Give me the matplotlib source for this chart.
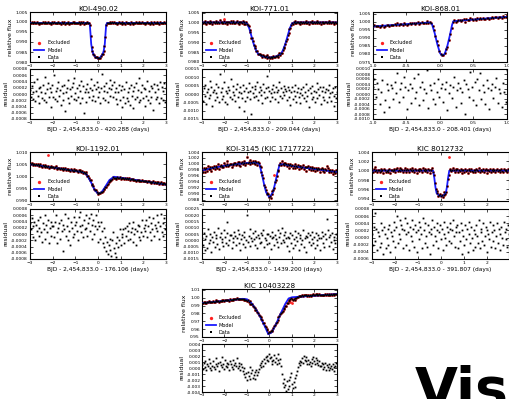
import numpy as np
import matplotlib
matplotlib.use("Agg")
import matplotlib.pyplot as plt
from matplotlib.ticker import FormatStrFormatter

plt.rcParams['font.family'] = ['DejaVu Sans']

W, H = 510, 399

# ---------------- data ----------------
titles = ["KOI-490.02", "KOI-771.01", "KOI-868.01", "KOI-1192.01",
          "KOI-3145 (KIC 1717722)", "KIC 8012732", "KIC 10403228"]
xlabels = ["BJD - 2,454,833.0 - 420.288 (days)",
           "BJD - 2,454,833.0 - 209.044 (days)",
           "BJD - 2,454,833.0 - 208.401 (days)",
           "BJD - 2,454,833.0 - 176.106 (days)",
           "BJD - 2,454,833.0 - 1439.200 (days)",
           "BJD - 2,454,833.0 - 391.807 (days)",
           None]

# model curves (node x, node y)
m1_x = [-3, -0.4, -0.36, -0.33, -0.3, -0.25, -0.2, -0.1, 0, 0.1, 0.2, 0.25, 0.3, 0.33, 0.36, 0.4, 3]
m1_y = [0.9995, 0.9995, 0.9985, 0.994, 0.989, 0.9855, 0.9838, 0.9823, 0.9818, 0.9823, 0.9838, 0.9855, 0.989, 0.994, 0.9985, 0.9995, 0.9995]
m2_x = [-3, -1.1, -1.0, -0.9, -0.8, -0.7, -0.6, -0.5, -0.3, 0, 0.3, 0.5, 0.6, 0.7, 0.8, 0.9, 1.0, 1.1, 3]
m2_y = [1.000, 1.000, 0.9995, 0.997, 0.993, 0.989, 0.986, 0.984, 0.9828, 0.9822, 0.9828, 0.984, 0.986, 0.989, 0.993, 0.997, 0.9995, 1.000, 1.000]
m3_x = [-1, -0.15, -0.12, -0.08, -0.04, 0.0, 0.03, 0.07, 0.11, 0.15, 0.18, 0.2, 1]
m3_y = [0.997, 0.9995, 0.9985, 0.993, 0.986, 0.9805, 0.979, 0.980, 0.985, 0.992, 0.998, 1.0003, 1.003]
m4_x = [-3, -1.5, -0.7, -0.5, -0.3, -0.15, 0, 0.15, 0.3, 0.5, 0.7, 1.5, 3]
m4_y = [1.0050, 1.0030, 1.0018, 1.0008, 0.9975, 0.9945, 0.9930, 0.9935, 0.9955, 0.9985, 0.9999, 0.9988, 0.9967]
m5_x = [-3, -2.5, -2, -1.5, -1, -0.6, -0.45, -0.35, -0.25, -0.15, 0, 0.15, 0.25, 0.35, 0.45, 0.6, 1, 2, 3]
m5_y = [0.9978, 0.9987, 0.9994, 0.9999, 1.0003, 1.0004, 1.0, 0.997, 0.9935, 0.9905, 0.9888, 0.9905, 0.9935, 0.997, 0.9998, 0.9999, 0.9993, 0.9983, 0.9973]
m6_x = [-3, -0.35, -0.3, -0.25, -0.2, -0.1, 0, 0.1, 0.2, 0.25, 0.3, 0.35, 2.94]
m6_y = [1.0, 1.0, 0.9985, 0.9965, 0.9952, 0.9947, 0.9945, 0.9947, 0.9952, 0.9965, 0.9985, 1.0, 1.0]
m7_x = [-3, -2, -1.2, -1.0, -0.8, -0.6, -0.4, -0.2, -0.05, 0.1, 0.3, 0.5, 0.7, 0.85, 1.0, 1.5, 2, 3]
m7_y = [0.993, 0.996, 0.9985, 0.998, 0.993, 0.985, 0.975, 0.963, 0.9535, 0.956, 0.967, 0.980, 0.992, 0.999, 1.0005, 1.0015, 1.0025, 1.0045]

# residuals (units of 1e-5 relative flux), evenly spread in time
r1 = [12, -8, 25, -15, 5, 38, -22, 10, 48, -5, 18, -30, 22, 8, -12, 30, -18, 55, 2, -25,
      15, 35, -10, 20, -40, 5, 28, -8, 62, -15, 10, -22, 18, 40, -5, 12, -35, 25, 3, -18,
      30, -55, 8, 20, -12, 45, -28, 15, -5, 22, 35, -15, 50, 2, -20, 18, -8, 28, -30, 10,
      42, -12, 25, -60, 5, 15, -25, 32, 8, -10, 20, 48, -18, 12, -5, 30, -22, 15, 38, -8,
      22, 5, -30, 18, 65, -12, 25, 10, -18, 35, 8, -25, 20, 45, -5, 15, 28, -10, 38, 5,
      -15, 20, -32, 8, 30, -20, 12, -40, 25, -8, 15, -28, 40, -12, 5, -22, 18, -35, 28, -5,
      10, -45, 22, -15, 35, -8, 12, -25, 50, -18, 8, 30, -12, 20, -38, 15, -5, 42, -20, 10,
      -28, 25, -10, 18, -50, 32, 5, -15, 28, -8, 15, -30, 38, -12, 22, -20, 10, 35, -25, 18]
r2 = [20, -40, 35, -10, 55, -60, 15, 30, -25, 80, -5, 40, -70, 10, 25, -35, 60, 5, -20, 45,
      -50, 120, 15, -30, 35, -10, 70, -45, 20, 5, -60, 40, 25, -15, 90, -30, 10, 50, -5, -40,
      30, 60, -20, 15, -75, 40, 5, -25, 55, 20, -100, -40, 35, -15, 10, 65, -30, 20, -120, 45,
      5, -20, 30, 50, -10, 75, -35, 15, 40, -5, 25, -55, 60, 10, -25, 35, 110, -15, 45, 20,
      -40, 5, 30, -20, 55, 15, -30, 40, 10, -50, 25, 70, -10, 35, -25, 15, 50, -5, 30, 20,
      -35, 45, -15, 25, -65, 10, 40, -30, 20, -10, 55, -45, 15, 35, -20, 5, -55, 30, -5, 45,
      -25, 15, -40, 60, -10, 25, -80, 35, 5, -30, 50, -15, 20, -45, 10, 65, -25, 30, -5, 40,
      -60, 20, -15, 45, -35, 10, 30, -50, 25, -20, 55, 5, -40, 15, 35, -10, -70, 40, -25, 15]
r3 = [30, 60, -10, 45, 20, -40, 10, 55, -70, -25, 40, 15, -50, 35, 25, -20, 50, 5, 85, -30,
      20, 45, -10, 70, 30, -60, 15, 40, -35, 25, 65, -15, 10, 80, -45, 30, 50, -25, 20, 5,
      95, -55, 35, 15, -20, 45, -40, 10, 60, -10, 25, 40, -30, 20, 50, -65, 5, 35, -15, 30,
      70, -50, 15, 45, 25, -35, 10, 55, -80, 40, 20, -10, 90, 30, -25, 50, -45, 60, 15, 85,
      -20, 35, 10, -40, 55, 25, -60, 15, 40, -15, 30, 65, -35, 20, 5, -50, 45, 10, -30, 95]
r4 = [35, 15, 50, -10, 25, 40, -20, 30, 10, 45, -5, 20, 55, 5, -25, 35, 15, 60, -15, 30, 5, 45, -30, 20, 40, -5, 25,
      25, -10, 40, 60, 5, -30, 20, 35, -15, 45, 10, -55, 30, 15, 65, -5, 25, -20, 50, 10, -35, 40, 20, -10, 55, 0, 30,
      40, 10, -20, 55, 25, 70, 5, 30, -10, 45, 15, 60, 20, -5, 35, 50, 10, 65, -15, 30, 45, 0, 25, 60, 15, -25, 40,
      25, -15, 40, 10, -30, 20, -40, -10, -55, -25, -65, -35, -50, -15, -70, -20, 5, -45, -60, -30, -75, -10, -40, -20, 15, -35, 0,
      -10, 15, -30, 20, -5, 25, -20, 10, 35, -15, 5, 20, -25, 40, 0, 15, -35, 10, 30, -10, 25, -20, 5, 45, -5, 20,
      30, 10, 45, -10, 25, 55, 5, -20, 35, 15, 50, -5, 30, 20, 60, 10, 40, -15, 25, 65, 5, 35, -5, 50, 15, 30]
r5 = [20, -40, 60, -80, 10, 35, -60, 90, -20, 5, 50, -90, 30, -10, 70, -50, 15, 40, -30, 100,
      -70, 25, 55, -15, 10, -45, 80, 30, -25, 60, 150, -35, 5, 45, 45, -60, 20, -10, 65, 35,
      -40, 15, 85, -20, 50, -75, 10, 40, -30, 70, 25, -55, 5, 200, -15, 35, 90, -45, 20, -5,
      55, 10, -35, 75, 30, -65, 45, 15, -25, 60, -10, 40, 80, -50, 20, 5, -30, 50, 50, -20,
      35, -70, 15, 65, 25, -40, 45, 10, -15, 80, -55, 30, 60, -25, 100, 5, 40, -10, 70, 20,
      -45, 30, -85, 15, 55, -20, 40, -60, 10, 75, -35, 25, -5, 60, -75, 20, 45, -30, 5, 85,
      -50, 15, 35, -90, 25, 60, -15, 40, -40, 10, 70, -25, 30, -65, 55, 5, -35, 45, 20, -80,
      15, 65, -20, 35, -55, 50, 10, 170, 80, 25, -45, 40, -10, 60, -70, 30, 5, -25, 50, 15]
r6 = [10, -20, 30, 70, -10, 25, -35, 15, 5, -25, 40, -15, 20, -45, 30, 10, -30, 0, 25, -20,
      35, -40, 15, 5, -10, 45, 20, -25, 30, 60, -15, 10, 50, -5, 35, 25, -30, 20, 55, 10,
      -20, 40, 15, -35, 30, 5, 50, -10, 25, -25, 35, 15, -40, 20, 45, -5, 30, 10, -30, 55,
      20, -15, 40, 5, -25, 35, 15, -45, 25, 10, 50, -20, 30, 5, -10, 40, 20, -30, 15, 35,
      -5, 25, -35, 10, 45, 0, -20, 30, 15, -10, 25, 40, -15, 20, 50, 5, -25, 30, 15, 35,
      -30, 15, -10, 40, -45, 20, 5, -20, 35, -5, 25, -40, 10, 45, -15, 30, 0, -35, 20, 10,
      -25, 35, 5, -15, 50, -30, 15, 25, -10, 40, -20, 5, 30, -40, 20, 10, -5, 45, -25, 15,
      35, -10, 20, -30, 5, 40, -15, 25, 10, -35, 30, 0, -20, 45, 15, -5, 25, -25, 35, 10]
r7 = [50, -20, 80, 10, 120, -40, 60, 30, 150, 0, 90, -30, 40, 110, 20, -10, 70, 160, 30, 80,
      -50, 100, 50, 180, 20, 60, -20, 130, 40, 90, 10, 70, -30, 110, 60, 20, 140, -10, 50, 90,
      30, 170, 0, 80, 40, -40, 60, 20,
      -50, -100, 0, -150, -80, -200, -60, -130, 20, -180, -90, -40, -160, -110, -70, -190, -30, -120, -60,
      -20, 50, 10, 80, 120, 40, 150, 90, 180, 130, 200, 110, 230, 160, 190, 120, 70, 140, 210, 100,
      170, 60, 130, 240, 90, 150, 30,
      -100, -250, -180, -320, -280, -380, -220, -350, -300, -200, -150, -80, -260, -340, -230, -310, -170, -120, -50,
      20, 80, 50, 120, 100, 160, 90, 200, 140, 110, 180, 70, 130, 60, 100, 40, 150, 90, 190, 120,
      60, 170, 80, 140, 50, 110, 30,
      30, 80, -20, 60, 10, 90, -40, 50, 20, -30, 70, 0, 40, -10, 60, 20, -50, 30, 80, 10]

# excluded points
ex1_x, ex1_y = [], []
ex2_x, ex2_y = [-2.0], [1.0016]
ex3_x, ex3_y = [], []
ex4_x, ex4_y = [-2.2], [1.0089]
ex5_x, ex5_y = [0.2], [0.9964]
ex6_x, ex6_y = [0.36], [1.0030]
ex7_x, ex7_y = [0.93, 0.98], [0.9945, 0.9935]

# axis settings
xlims = [(-3, 3), (-3, 3), (-1, 1), (-3, 3), (-3, 3), (-3, 2.94), (-3, 3)]
xticks = [[-3, -2, -1, 0, 1, 2, 3]] * 2 + [[-1.0, -0.5, 0.0, 0.5, 1.0]] + \
         [[-3, -2, -1, 0, 1, 2, 3]] * 2 + [[-3, -2, -1, 0, 1, 2]] + [[-3, -2, -1, 0, 1, 2, 3]]
flux_ylims = [(0.980, 1.005), (0.980, 1.0053), (0.975, 1.006), (0.990, 1.010),
              (0.9876, 1.004), (0.9935, 1.004), (0.95, 1.011)]
flux_ticks = [[0.980, 0.985, 0.990, 0.995, 1.000, 1.005],
              [0.980, 0.985, 0.990, 0.995, 1.000, 1.005],
              [0.975, 0.980, 0.985, 0.990, 0.995, 1.000, 1.005],
              [0.990, 0.995, 1.000, 1.005, 1.010],
              [0.988, 0.990, 0.992, 0.994, 0.996, 0.998, 1.000, 1.002, 1.004],
              [0.994, 0.996, 0.998, 1.000, 1.002, 1.004],
              [0.95, 0.96, 0.97, 0.98, 0.99, 1.00, 1.01]]
flux_fmt = ['%.3f'] * 6 + ['%.2f']
res_ylims = [(-0.0008, 0.0008), (-0.0015, 0.0015), (-0.0010, 0.0010), (-0.0008, 0.0008),
             (-0.0015, 0.0025), (-0.0006, 0.0008), (-0.004, 0.004)]
res_steps = [0.0002, 0.0005, 0.0002, 0.0002, 0.0005, 0.0002, 0.001]
res_fmt = ['%.4f'] * 6 + ['%.3f']

models = [(m1_x, m1_y), (m2_x, m2_y), (m3_x, m3_y), (m4_x, m4_y), (m5_x, m5_y), (m6_x, m6_y), (m7_x, m7_y)]
resids = [r1, r2, r3, r4, r5, r6, r7]
excls = [(ex1_x, ex1_y), (ex2_x, ex2_y), (ex3_x, ex3_y), (ex4_x, ex4_y), (ex5_x, ex5_y), (ex6_x, ex6_y), (ex7_x, ex7_y)]

# ---------------- layout (pixel boxes) ----------------
cols = [(30, 166), (202, 337), (373, 507), (30, 166), (202, 337), (372, 509), (202, 337)]
top_rows = [(12, 62)] * 3 + [(152, 201)] * 3 + [(289, 337)]
res_rows = [(69, 119)] * 3 + [(209, 259)] * 3 + [(344, 392)]


def rect(xr, yr):
    x0, x1 = xr
    y0, y1 = yr
    return [x0 / W, 1 - y1 / H, (x1 - x0) / W, (y1 - y0) / H]


def style(ax, pad=1.5):
    ax.tick_params(direction='in', length=2, width=0.5, labelsize=3.2, pad=pad,
                   top=True, right=True)
    for s in ax.spines.values():
        s.set_linewidth(0.8)


fig = plt.figure(figsize=(W / 100, H / 100), dpi=100)

for i in range(7):
    mx, my = models[i]
    res = np.array(resids[i]) * 1e-5
    t = np.linspace(xlims[i][0], xlims[i][1], len(res))
    data = np.interp(t, mx, my) + res

    ax = fig.add_axes(rect(cols[i], top_rows[i]))
    ax.plot(t, data, 'o', color='#d62020', ms=2.0, mew=0, zorder=2)
    exl, = ax.plot(excls[i][0], excls[i][1], 'o', color='#ff2020', ms=2.0, mew=0, zorder=4, label='Excluded')
    ml, = ax.plot(mx, my, '-', color='#1a1aff', lw=1.3, zorder=3, label='Model')
    dl, = ax.plot(t, data, 's', color='black', ms=1.2, mew=0, zorder=5, label='Data')
    ax.set_xlim(*xlims[i])
    ax.set_ylim(*flux_ylims[i])
    ax.set_xticks(xticks[i])
    ax.set_yticks(flux_ticks[i])
    ax.yaxis.set_major_formatter(FormatStrFormatter(flux_fmt[i]))
    if i == 2:
        ax.xaxis.set_major_formatter(FormatStrFormatter('%.1f'))
    style(ax)
    ax.set_ylabel('relative flux', fontsize=4.5, labelpad=2)
    ax.set_title(titles[i], fontsize=5.2, pad=1)
    ax.legend(handles=[exl, ml, dl], loc='lower left', bbox_to_anchor=(0.0, -0.04),
              frameon=False, fontsize=3.6, handlelength=2.0, labelspacing=0.45,
              handletextpad=0.6, markerscale=1.2, borderpad=0.3)

    ax2 = fig.add_axes(rect(cols[i], res_rows[i]))
    ax2.plot(t, res, 's', color='black', ms=1.3, mew=0)
    ax2.set_xlim(*xlims[i])
    ax2.set_ylim(*res_ylims[i])
    ax2.set_xticks(xticks[i])
    lo, hi = res_ylims[i]
    ax2.set_yticks(np.arange(round(lo / res_steps[i]), round(hi / res_steps[i]) + 1) * res_steps[i])
    ax2.yaxis.set_major_formatter(FormatStrFormatter(res_fmt[i]))
    if i == 2:
        ax2.xaxis.set_major_formatter(FormatStrFormatter('%.1f'))
    style(ax2, pad=0.8 if i == 6 else 1.5)
    ax2.set_ylabel('residual', fontsize=4.5, labelpad=2)
    if xlabels[i]:
        ax2.set_xlabel(xlabels[i], fontsize=4.2, labelpad=1.5)

fig.text(415 / W, 1 - 407 / H, 'Vis', fontsize=40, fontweight='bold',
         family='DejaVu Sans', ha='left', va='baseline', color='black')

fig.savefig('out.png', dpi=100)
